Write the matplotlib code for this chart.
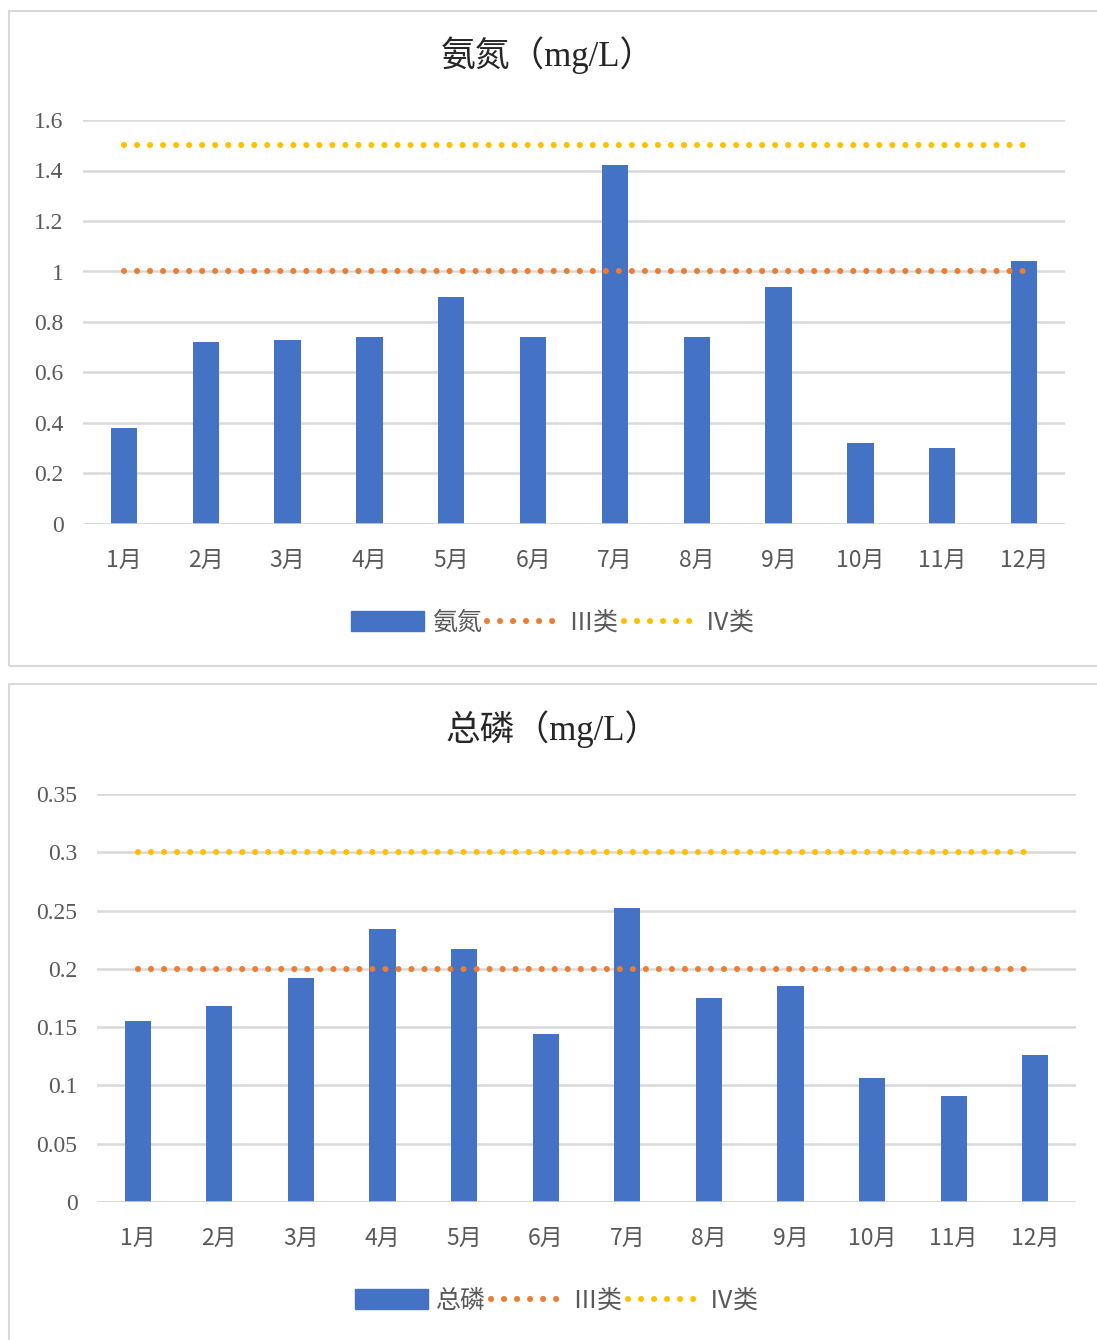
import matplotlib
matplotlib.use("Agg")
import matplotlib.pyplot as plt
from matplotlib.patches import Rectangle, Patch
from matplotlib.lines import Line2D

months = ["1月", "2月", "3月", "4月", "5月", "6月", "7月", "8月", "9月", "10月", "11月", "12月"]

nh3_values = [0.38, 0.72, 0.73, 0.74, 0.90, 0.74, 1.42, 0.74, 0.94, 0.32, 0.30, 1.04]
nh3_class3 = [1.0] * 12
nh3_class4 = [1.5] * 12
nh3_ticks = [0, 0.2, 0.4, 0.6, 0.8, 1.0, 1.2, 1.4, 1.6]
nh3_ticklabels = ["0", "0.2", "0.4", "0.6", "0.8", "1", "1.2", "1.4", "1.6"]

tp_values = [0.155, 0.168, 0.192, 0.234, 0.217, 0.144, 0.252, 0.175, 0.185, 0.106, 0.091, 0.126]
tp_class3 = [0.2] * 12
tp_class4 = [0.3] * 12
tp_ticks = [0, 0.05, 0.1, 0.15, 0.2, 0.25, 0.3, 0.35]
tp_ticklabels = ["0", "0.05", "0.1", "0.15", "0.2", "0.25", "0.3", "0.35"]

BAR = "#4472C4"
ORANGE = "#ED7D31"
YELLOW = "#FFC000"
GRID = "#D9D9D9"
TXT = "#595959"
SERIF = ["Liberation Serif", "Noto Sans CJK SC", "DejaVu Sans"]
SANS = ["Noto Sans CJK SC", "DejaVu Sans"]

W, H = 1097, 1340
fig = plt.figure(figsize=(W / 100, H / 100), dpi=100)

def fx(px):
    return px / W

def fy(py):
    return 1 - py / H

# panel borders
for (x0, y0, x1, y1) in [(9, 11, 1110, 666), (9, 684, 1110, 1360)]:
    fig.patches.append(Rectangle((fx(x0), fy(y1)), fx(x1 - x0), (y1 - y0) / H,
                                 transform=fig.transFigure, fill=False,
                                 edgecolor="#D9D9D9", linewidth=1.5, zorder=0))

LW = 4.4
DASH = [0.001, 2.13]

def draw(ax_rect, values, c3, c4, ticks, ticklabels, ymax, title, title_x, title_y, label, legend_y, legend_x):
    ax = fig.add_axes(ax_rect)
    x = list(range(len(months)))
    ax.bar(x, values, width=0.32, color=BAR, zorder=3)
    dot = dict(linewidth=LW, dash_capstyle="round", zorder=4)
    ax.plot(x, c3, color=ORANGE, dashes=DASH, **dot)
    ax.plot(x, c4, color=YELLOW, dashes=DASH, **dot)
    ax.set_xlim(-0.5, len(months) - 0.5)
    ax.set_ylim(0, ymax)
    ax.set_yticks(ticks)
    ax.set_yticklabels(ticklabels, family=SERIF, fontsize=17, color=TXT)
    ax.set_xticks(x)
    ax.set_xticklabels(months, family=SANS, fontsize=16.5, color=TXT)
    ax.tick_params(axis="both", length=0)
    ax.tick_params(axis="x", pad=18)
    ax.tick_params(axis="y", pad=14)
    for s in ax.spines.values():
        s.set_visible(False)
    ax.grid(axis="y", color=GRID, linewidth=1.8, zorder=0)
    ax.axhline(0, color=GRID, linewidth=1.8, zorder=5)
    ax.set_axisbelow(True)
    fig.text(fx(title_x), fy(title_y), title, ha="center", va="center",
             family=SERIF, fontsize=25, color="#262626")
    handles = [Patch(facecolor=BAR, edgecolor=BAR),
               Line2D([0], [0], color=ORANGE, linewidth=LW, dashes=DASH, dash_capstyle="round"),
               Line2D([0], [0], color=YELLOW, linewidth=LW, dashes=DASH, dash_capstyle="round")]
    leg = fig.legend(handles, [label, "Ⅲ类", "Ⅳ类"], loc="center", bbox_to_anchor=(fx(legend_x), fy(legend_y)),
                     ncol=3, frameon=False, handlelength=2.9, handleheight=0.8, handletextpad=0.35,
                     columnspacing=0.2, prop={"family": SERIF, "size": 18})
    for t in leg.get_texts():
        t.set_color(TXT)
    return ax

draw([fx(83), fy(524), fx(1065 - 83), (524 - 120) / H], nh3_values, nh3_class3, nh3_class4,
     nh3_ticks, nh3_ticklabels, 1.6, "氨氮（mg/L）", 548, 55, "氨氮", 623, 553)
draw([fx(97), fy(1202), fx(1076 - 97), (1202 - 794) / H], tp_values, tp_class3, tp_class4,
     tp_ticks, tp_ticklabels, 0.35, "总磷（mg/L）", 553, 729, "总磷", 1301, 557)

fig.savefig("out.png", dpi=100, facecolor="white")
